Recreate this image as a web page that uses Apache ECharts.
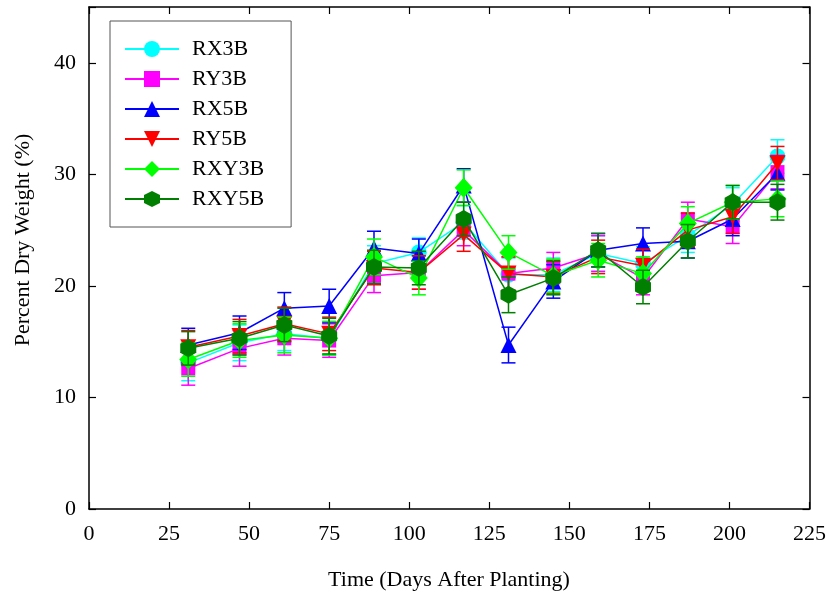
<!DOCTYPE html>
<html>
<head>
<meta charset="utf-8">
<script src="https://cdn.jsdelivr.net/npm/echarts@6/dist/echarts.min.js"></script>
<style>
html,body{margin:0;padding:0;background:#fff;}
#chart{width:829px;height:596px;}
</style>
</head>
<body>
<div id="chart"></div>
<script>
const days = [31, 47, 61, 75, 89, 103, 117, 131, 145, 159, 173, 187, 201, 215];

const RX3B  = [13.1, 14.9, 15.7, 15.3, 22.0, 23.0, 25.7, 21.0, 21.0, 22.9, 22.0, 24.5, 27.3, 31.6];
const RY3B  = [12.6, 14.4, 15.3, 15.1, 20.9, 21.2, 25.0, 21.1, 21.6, 22.9, 20.7, 26.0, 25.3, 30.2];
const RX5B  = [14.7, 15.8, 18.0, 18.2, 23.4, 22.9, 29.0, 14.7, 20.4, 23.2, 23.8, 24.0, 26.0, 30.1];
const RY5B  = [14.5, 15.5, 16.6, 15.7, 21.6, 21.2, 24.6, 21.1, 20.8, 22.6, 21.8, 25.0, 26.2, 31.0];
const RXY3B = [13.4, 15.1, 15.6, 15.3, 22.6, 20.7, 28.8, 23.0, 20.9, 22.3, 21.1, 25.6, 27.5, 27.8];
const RXY5B = [14.4, 15.3, 16.5, 15.5, 21.7, 21.6, 26.0, 19.2, 20.7, 23.2, 19.9, 24.0, 27.5, 27.5];

const RX3B_err  = [1.6, 1.6, 1.5, 1.5, 1.6, 1.3, 1.5, 1.5, 1.5, 1.6, 1.5, 1.5, 1.5, 1.5];
const RY3B_err  = [1.5, 1.6, 1.5, 1.5, 1.5, 1.5, 1.4, 1.5, 1.4, 1.6, 1.5, 1.5, 1.5, 1.5];
const RX5B_err  = [1.5, 1.5, 1.4, 1.5, 1.5, 1.3, 1.5, 1.6, 1.5, 1.5, 1.4, 1.5, 1.5, 1.5];
const RY5B_err  = [1.5, 1.5, 1.5, 1.5, 1.5, 1.5, 1.5, 1.5, 1.5, 1.5, 1.5, 1.5, 1.5, 1.5];
const RXY3B_err = [1.5, 1.5, 1.6, 1.5, 1.6, 1.5, 1.6, 1.5, 1.5, 1.5, 1.5, 1.5, 1.5, 1.6];
const RXY5B_err = [1.5, 1.5, 1.5, 1.6, 1.5, 1.5, 1.5, 1.6, 1.5, 1.5, 1.5, 1.5, 1.5, 1.6];

const xTicks = [0, 25, 50, 75, 100, 125, 150, 175, 200, 225];
const yTicks = [0, 10, 20, 30, 40];

const FONT = '"Liberation Serif", "Times New Roman", serif';
const HEX = 'path://M0,-1 L0.866,-0.5 L0.866,0.5 L0,1 L-0.866,0.5 L-0.866,-0.5 Z';

const defs = [
  {name: 'RX3B',  vals: RX3B,  errs: RX3B_err,  color: '#00FFFF', symbol: 'circle',   size: 16, rot: 0},
  {name: 'RY3B',  vals: RY3B,  errs: RY3B_err,  color: '#FF00FF', symbol: 'rect',     size: 14, rot: 0},
  {name: 'RX5B',  vals: RX5B,  errs: RX5B_err,  color: '#0000FF', symbol: 'triangle', size: 16, rot: 0},
  {name: 'RY5B',  vals: RY5B,  errs: RY5B_err,  color: '#FF0000', symbol: 'triangle', size: 16, rot: 180},
  {name: 'RXY3B', vals: RXY3B, errs: RXY3B_err, color: '#00FF00', symbol: 'diamond',  size: [18, 20], rot: 0},
  {name: 'RXY5B', vals: RXY5B, errs: RXY5B_err, color: '#007F00', symbol: HEX,        size: [16, 18], rot: 0}
];

function errRender(color) {
  return function (params, api) {
    const x = api.value(0), y = api.value(1), e = api.value(2);
    const top = api.coord([x, y + e]);
    const bot = api.coord([x, y - e]);
    const hw = 7;
    const st = {stroke: color, lineWidth: 1.5};
    return {
      type: 'group',
      children: [
        {type: 'line', shape: {x1: top[0], y1: top[1], x2: bot[0], y2: bot[1]}, style: st},
        {type: 'line', shape: {x1: top[0] - hw, y1: top[1], x2: top[0] + hw, y2: top[1]}, style: st},
        {type: 'line', shape: {x1: bot[0] - hw, y1: bot[1], x2: bot[0] + hw, y2: bot[1]}, style: st}
      ]
    };
  };
}

const series = [];
defs.forEach(function (d, i) {
  series.push({
    name: d.name + ' err',
    type: 'custom',
    renderItem: errRender(d.color),
    data: days.map(function (x, k) { return [x, d.vals[k], d.errs[k]]; }),
    encode: {x: 0, y: 1},
    z: 2 + i * 2,
    silent: true
  });
  series.push({
    name: d.name,
    type: 'line',
    data: days.map(function (x, k) { return [x, d.vals[k]]; }),
    symbol: d.symbol,
    symbolSize: d.size,
    symbolRotate: d.rot,
    showAllSymbol: true,
    lineStyle: {color: d.color, width: 1.5},
    itemStyle: {color: d.color, borderWidth: 0},
    z: 3 + i * 2,
    animation: false
  });
});

const axisLineStyle = {show: true, onZero: false, lineStyle: {color: '#000', width: 1.5}};
const tickStyle = {show: true, inside: true, length: 7, lineStyle: {color: '#000', width: 1.2}};

const chart = echarts.init(document.getElementById('chart'), null, {renderer: 'canvas'});
chart.setOption({
  animation: false,
  backgroundColor: '#fff',
  grid: {left: 89, right: 17, top: 7, bottom: 87, containLabel: false},
  legend: {
    data: defs.map(function (d) { return d.name; }),
    orient: 'vertical',
    left: 110,
    top: 21,
    itemWidth: 54,
    itemHeight: 20,
    itemGap: 8,
    padding: [17, 27, 17, 14],
    borderColor: '#555',
    borderWidth: 1,
    backgroundColor: '#fff',
    textStyle: {fontFamily: FONT, fontSize: 22, color: '#000', padding: [0, 0, 0, 8]},
    selectedMode: false
  },
  xAxis: [
    {
      type: 'value', min: 0, max: 225, interval: 25, position: 'bottom',
      axisLine: axisLineStyle,
      axisTick: tickStyle,
      axisLabel: {
        show: true, margin: 14, color: '#000', fontFamily: FONT, fontSize: 22,
        formatter: function (v) { return xTicks.indexOf(v) >= 0 ? String(v) : ''; }
      },
      splitLine: {show: false}
    },
    {
      type: 'value', min: 0, max: 225, interval: 25, position: 'top',
      axisLine: axisLineStyle,
      axisTick: tickStyle,
      axisLabel: {show: false},
      splitLine: {show: false}
    }
  ],
  yAxis: [
    {
      type: 'value', min: 0, max: 45, interval: 10, position: 'left',
      axisLine: axisLineStyle,
      axisTick: tickStyle,
      axisLabel: {
        show: true, margin: 13, color: '#000', fontFamily: FONT, fontSize: 22,
        formatter: function (v) { return yTicks.indexOf(v) >= 0 ? String(v) : ''; }
      },
      splitLine: {show: false}
    },
    {
      type: 'value', min: 0, max: 45, interval: 10, position: 'right',
      axisLine: axisLineStyle,
      axisTick: tickStyle,
      axisLabel: {show: false},
      splitLine: {show: false}
    }
  ],
  graphic: [
    {
      type: 'text', x: 449, y: 580,
      style: {text: 'Time (Days After Planting)', font: '22px ' + FONT, fill: '#000', textAlign: 'center', textVerticalAlign: 'middle'}
    },
    {
      type: 'text', x: 23, y: 240, rotation: Math.PI / 2,
      style: {text: 'Percent Dry Weight (%)', font: '22px ' + FONT, fill: '#000', textAlign: 'center', textVerticalAlign: 'middle'}
    }
  ],
  series: series
});
</script>
</body>
</html>
